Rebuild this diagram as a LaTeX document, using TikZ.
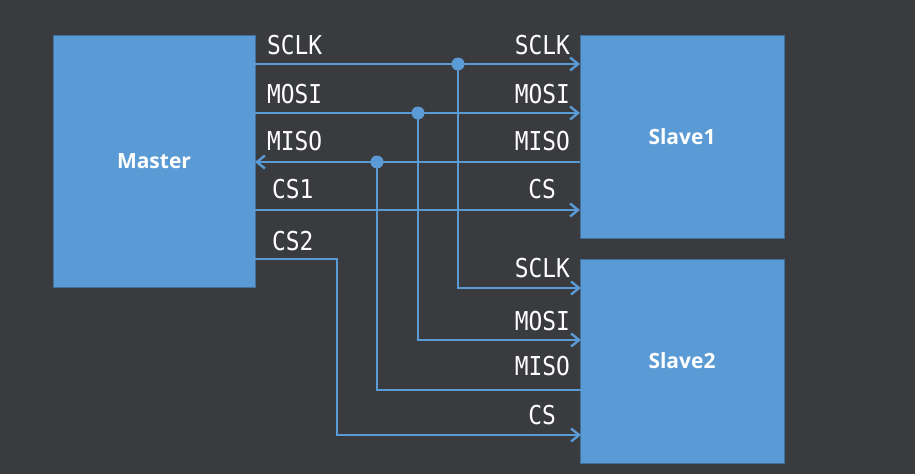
\documentclass[tikz,border=0pt]{standalone}
\usepackage{fontspec}
\usetikzlibrary{arrows.meta}
\newfontfamily\pinfont[FakeStretch=0.88]{DejaVu Sans Mono}
\newfontfamily\boxfont{Open Sans}
\definecolor{SPIcolBG}{HTML}{3a3b3f}
\definecolor{SPIcolBox}{HTML}{5b9bd5}
\definecolor{SPIcolEdge}{HTML}{41719c}
\definecolor{SPIcolWire}{HTML}{5b9bd5}
\tikzset{
  chip/.style={draw=SPIcolEdge, fill=SPIcolBox, line width=1pt, text=white,
    font=\boxfont\bfseries\fontsize{21}{24}\selectfont},
  wire/.style={draw=SPIcolWire, line width=2.8pt, line join=miter},
  tip/.style={-{Straight Barb[length=8pt,width=13pt,line width=2.4pt]}},
  pin/.style={text=white, font=\pinfont\fontsize{26}{28}\selectfont},
  lpin/.style={pin, anchor=base west},
  rpin/.style={pin, anchor=base east},
  joint/.style={fill=SPIcolWire}
}

\begin{document}
\begin{tikzpicture}[y=1pt, x=1pt, yscale=-1, inner sep=0pt, outer sep=0pt]
  \fill[SPIcolBG] (0,0) rectangle (915,474);
  \useasboundingbox (0,0) rectangle (915,474);
  % boxes
  \node[chip, minimum width=202pt, minimum height=252pt] (master) at (154,161) {Master};
  \node[chip, minimum width=204pt, minimum height=203pt] (slave1) at (682,136.5) {Slave1};
  \node[chip, minimum width=204pt, minimum height=204pt] (slave2) at (682,361) {Slave2};
  % junctions and bends
  \coordinate (jsclk) at (458,64);
  \coordinate (jmosi) at (418,113);
  \coordinate (jmiso) at (377,162);
  \coordinate (jcs1) at (418,210);
  \coordinate (bcs2) at (337,259);
  \coordinate (p2sclk) at (581,288);
  \coordinate (p2mosi) at (581,340);
  \coordinate (p2miso) at (581,390);
  \coordinate (p2cs) at (581,435);
  % wires
  \draw[wire,tip] (master.east |- jsclk) -- (slave1.west |- jsclk);
  \draw[wire,tip] (master.east |- jmosi) -- (slave1.west |- jmosi);
  \draw[wire,tip] (slave1.west |- jmiso) -- (master.east |- jmiso);
  \draw[wire,tip] (master.east |- jcs1) -- (slave1.west |- jcs1);
  \draw[wire,tip] (jsclk) |- (p2sclk);
  \draw[wire,tip] (jmosi) |- (p2mosi);
  \draw[wire] (p2miso) -| (jmiso);
  \draw[wire,tip] (master.east |- bcs2) -- (bcs2) |- (p2cs);
  \fill[joint] (jsclk) circle (6.5pt);
  \fill[joint] (jmosi) circle (6.5pt);
  \fill[joint] (jmiso) circle (6.5pt);
  % pin labels
  \node[lpin] (lsclk) at (267,54) {SCLK};
  \node[lpin] (lmosi) at (267,103) {MOSI};
  \node[lpin] (lmiso) at (267,150) {MISO};
  \node[lpin] (lcs1) at (272,198) {CS1};
  \node[lpin] (lcs2) at (272,250) {CS2};
  \node[rpin] (rsclk1) at (570,54) {SCLK};
  \node[rpin] (rmosi1) at (570,103) {MOSI};
  \node[rpin] (rmiso1) at (570,150) {MISO};
  \node[rpin] (rcs1) at (556,198) {CS};
  \node[rpin] (rsclk2) at (570,277) {SCLK};
  \node[rpin] (rmosi2) at (570,330) {MOSI};
  \node[rpin] (rmiso2) at (570,375) {MISO};
  \node[rpin] (rcs2) at (556,424) {CS};
\end{tikzpicture}
\end{document}
